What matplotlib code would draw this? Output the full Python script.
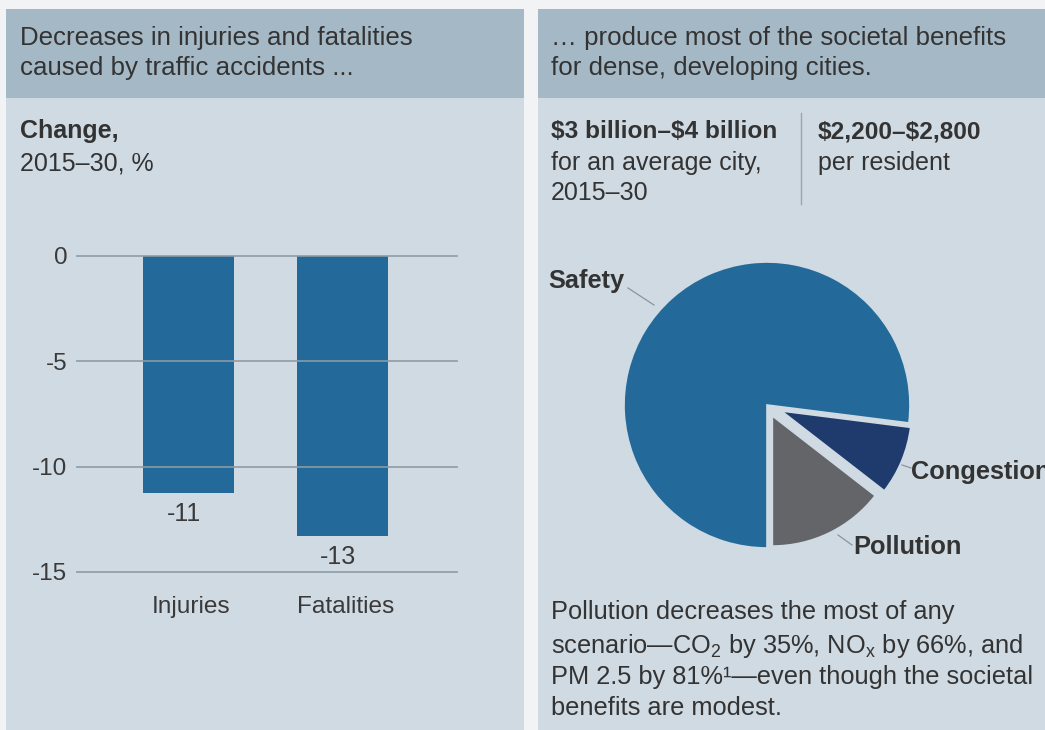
import matplotlib
matplotlib.use("Agg")
import matplotlib.pyplot as plt
from matplotlib.patches import Rectangle
from matplotlib.lines import Line2D
from matplotlib.transforms import ScaledTranslation

# ---- data ----
bar_categories = ["Injuries", "Fatalities"]
bar_values = [-11.25, -13.3]          # change 2015-30, %
y_ticks = [0, -5, -10, -15]

pie_labels = ["Pollution", "Congestion", "Safety"]
pie_shares = [14.5, 8.5, 77.0]        # share of societal benefits, %

# ---- style ----
W, H = 1045, 730
OUTER = "#f1f3f5"
HEADER = "#a5b8c6"
BODY = "#cfdae3"
TEXT = "#333333"
BAR = "#236a9b"
GRID = "#8e9ba3"
PIE_COLORS = ["#636569", "#1f3a6c", "#236a9b"]
FS = 18

plt.rcParams["font.family"] = ["Liberation Sans", "DejaVu Sans"]
plt.rcParams["mathtext.fontset"] = "custom"
plt.rcParams["mathtext.rm"] = "Liberation Sans"
plt.rcParams["mathtext.it"] = "Liberation Sans:italic"
plt.rcParams["mathtext.bf"] = "Liberation Sans:bold"


def fx(x):
    return x / W


def fy(y):
    return 1 - y / H


fig = plt.figure(figsize=(W / 100, H / 100), dpi=100, facecolor=OUTER)


def rect(x0, y0, x1, y1, color):
    fig.add_artist(Rectangle((fx(x0), fy(y1)), (x1 - x0) / W, (y1 - y0) / H,
                             transform=fig.transFigure, color=color, lw=0, zorder=0))


def txt(x, y, s, bold=False, size=FS, **kw):
    fig.text(fx(x), fy(y), s, fontsize=size, color=TEXT, va="baseline",
             fontweight="bold" if bold else "normal", **kw)


# panels
rect(6, 9, 524, 730, BODY)
rect(6, 9, 524, 98, HEADER)
rect(538, 9, 1045, 730, BODY)
rect(538, 9, 1045, 98, HEADER)

# ---- left panel ----
txt(20, 45, "Decreases in injuries and fatalities", size=18.6)
txt(20, 75, "caused by traffic accidents ...", size=18.6)
txt(20, 138, "Change,", bold=True)
txt(20, 170, "2015–30, %")

ax = fig.add_axes([fx(77), fy(572), (457 - 77) / W, (572 - 256) / H])
ax.set_facecolor("none")
x = range(len(bar_values))
ax.bar(x, bar_values, width=0.59, color=BAR, zorder=2)
for t in y_ticks:
    ax.axhline(t, color=GRID, lw=1.3, zorder=3, clip_on=False, alpha=0.9)
ax.set_xlim(-0.724, 1.743)
ax.set_ylim(-15, 0)
ax.set_yticks(y_ticks)
ax.set_yticklabels([str(t) for t in y_ticks])
ax.set_xticks(list(x))
ax.set_xticklabels(bar_categories)
ax.tick_params(axis="y", length=0, pad=7, labelsize=17.5, labelcolor="#3a3a3a")
ax.tick_params(axis="x", length=0, pad=17, labelsize=17.6, labelcolor="#3a3a3a")
shift = ScaledTranslation(3 / 100, 0, fig.dpi_scale_trans)
for lab in ax.get_xticklabels():
    lab.set_transform(lab.get_transform() + shift)
for s in ax.spines.values():
    s.set_visible(False)
for xi, v in zip(x, bar_values):
    ax.annotate(f"{v:.0f}", (xi, v), xytext=(-3, -15), textcoords="offset points",
                ha="center", va="center", fontsize=18, color="#3a3a3a")

# ---- right panel ----
txt(551, 45, "… produce most of the societal benefits", size=18.6)
txt(551, 75, "for dense, developing cities.", size=18.6)
txt(551, 138, r"\$3 billion–\$4 billion", bold=True, size=17.6)
txt(551, 170, "for an average city,")
txt(551, 200, "2015–30")
fig.add_artist(Line2D([fx(801), fx(801)], [fy(113), fy(204)], color="#9aa5ad",
                      lw=1, transform=fig.transFigure))
txt(818, 138, r"\$2,200–\$2,800", bold=True, size=17.6)
txt(818, 170, "per resident")

# pie: centre (767, 405) px, radius 143 px
S = 400
L = S / (2 * 143)
pax = fig.add_axes([fx(767 - S / 2), fy(405 + S / 2), S / W, S / H])
wedges, _ = pax.pie(pie_shares, colors=PIE_COLORS, startangle=-90, counterclock=True,
                    explode=[0.085, 0.11, 0.0], radius=1,
                    wedgeprops=dict(edgecolor=BODY, linewidth=1.2))
# pulled-out slices are drawn slightly smaller
for w in wedges[:2]:
    w.set_radius(0.91)
pax.set_xlim(-L, L)
pax.set_ylim(-L, L)
pax.axis("off")

# pie labels with leader lines
lead = dict(color="#8a949b", lw=0.9, transform=fig.transFigure)
fig.add_artist(Line2D([fx(628), fx(654)], [fy(288), fy(305)], **lead))
txt(548, 288, "Safety", bold=True, size=18.3)
fig.add_artist(Line2D([fx(902), fx(911)], [fy(465), fy(468)], **lead))
txt(911, 479, "Congestion", bold=True, size=18.3)
fig.add_artist(Line2D([fx(838), fx(852)], [fy(535), fy(545)], **lead))
txt(853, 554, "Pollution", bold=True, size=18.3)

# note below pie
txt(551, 619, "Pollution decreases the most of any", size=18.3)
txt(551, 653, r"scenario—CO$_2$ by 35%, NO$_\mathrm{x}$ by 66%, and", size=18.3)
txt(551, 684, "PM 2.5 by 81%¹—even though the societal", size=18.3)
txt(551, 715, "benefits are modest.", size=18.3)

fig.savefig("out.png", dpi=100, facecolor=OUTER)
